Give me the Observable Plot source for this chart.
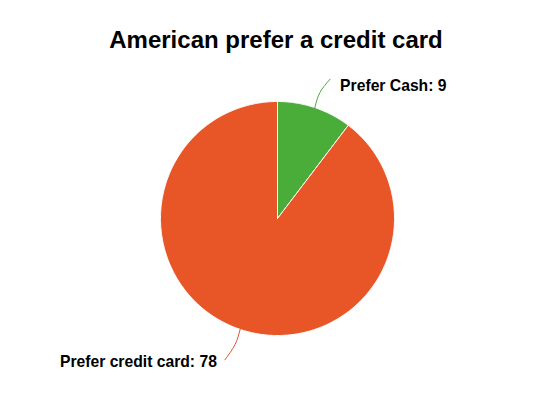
<!DOCTYPE html>
<html><head><meta charset="utf-8">
<script src="https://cdn.jsdelivr.net/npm/d3@7"></script>
<script src="https://cdn.jsdelivr.net/npm/@observablehq/plot@0.6"></script>
<style>
body{margin:0;background:#fff;font-family:"Liberation Sans",Arial,sans-serif;}
#title{height:60px;width:540px;box-sizing:border-box;padding-top:26px;text-align:center;font-weight:bold;font-size:24px;line-height:28px;color:#000;padding-left:12px}
</style>
</head><body>
<div id="title">American prefer a credit card</div>
<div id="chart"></div>
<script>
const categories = ["Prefer Cash", "Prefer credit card"];
const values = [9, 78];
const colors = ["#4aad3a", "#e85527"];

const W = 540, H = 340, R = 117;
const pie = d3.pie().sort(null)(values);
const slices = [], leaders = [], labels = [];
pie.forEach((a, i) => {
  const steps = Math.max(2, Math.ceil((a.endAngle - a.startAngle) / 0.01));
  slices.push({cat: categories[i], x: 0, y: 0});
  for (let k = 0; k <= steps; k++) {
    const t = a.startAngle + (a.endAngle - a.startAngle) * k / steps;
    slices.push({cat: categories[i], x: R * Math.sin(t), y: -R * Math.cos(t)});
  }
  slices.push({cat: categories[i], x: 0, y: 0});
  const m = (a.startAngle + a.endAngle) / 2;
  const s = Math.sin(m) >= 0 ? 1 : -1;
  const p0 = {x: R * Math.sin(m), y: -R * Math.cos(m)};
  const p1 = {x: 133 * Math.sin(m), y: -133 * Math.cos(m)};
  const p2 = {x: 146 * Math.sin(m) + s * 6, y: -146 * Math.cos(m) + (s > 0 ? -1 : 3)};
  [p0, p1, p2].forEach(p => leaders.push({cat: categories[i], ...p}));
  labels.push({cat: categories[i], text: `${categories[i]}: ${values[i]}`, x: p2.x + s * (s > 0 ? 10 : 8), y: p2.y + (s > 0 ? 7 : 2), anchor: s > 0 ? "start" : "end"});
});

const chart = Plot.plot({
  width: W, height: H,
  margin: 0,
  x: {domain: [-277, W - 277], range: [0, W], axis: null},
  y: {domain: [-158, H - 158], range: [0, H], axis: null},
  color: {domain: categories, range: colors},
  style: {fontFamily: "'Liberation Sans', Arial, sans-serif"},
  marks: [
    Plot.line(slices, {x: "x", y: "y", z: "cat", fill: "cat", stroke: "#fff", strokeWidth: 1, curve: "linear"}),
    Plot.line(leaders, {x: "x", y: "y", z: "cat", stroke: "cat", strokeWidth: 1, curve: "natural"}),
    Plot.text(labels.filter(d => d.anchor === "start"), {x: "x", y: "y", text: "text", textAnchor: "start", fontWeight: "bold", fontSize: 15.7, fill: "#000"}),
    Plot.text(labels.filter(d => d.anchor === "end"), {x: "x", y: "y", text: "text", textAnchor: "end", fontWeight: "bold", fontSize: 15.7, fill: "#000"})
  ]
});
document.getElementById("chart").appendChild(chart);
</script>
</body></html>
